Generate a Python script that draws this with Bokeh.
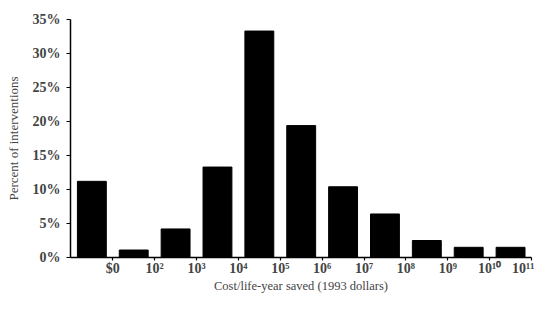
from bokeh.plotting import figure
from bokeh.models import FixedTicker, Range1d
from bokeh.embed import file_html
from bokeh.resources import INLINE

# Data
bins = ["<$0", "$0-10²", "10²-10³", "10³-10⁴", "10⁴-10⁵", "10⁵-10⁶",
        "10⁶-10⁷", "10⁷-10⁸", "10⁸-10⁹", "10⁹-10¹⁰", "10¹⁰-10¹¹"]
percents = [11.2, 1.1, 4.2, 13.3, 33.3, 19.4, 10.4, 6.4, 2.5, 1.5, 1.5]
tick_labels = ["$0", "10²", "10³", "10⁴", "10⁵", "10⁶", "10⁷", "10⁸", "10⁹", "10¹⁰", "10¹¹"]
y_ticks = [0, 5, 10, 15, 20, 25, 30, 35]

xs = list(range(len(bins)))
boundaries = [i + 0.5 for i in range(len(tick_labels))]

p = figure(width=534, height=295, output_backend="svg", toolbar_location=None,
           x_range=Range1d(-0.51, 10.5), y_range=Range1d(0, 35),
           min_border_left=70, min_border_right=3, min_border_top=19, min_border_bottom=36)

p.vbar(x=xs, top=percents, width=0.69, bottom=0, fill_color="black", line_color="black")

p.xgrid.visible = False
p.ygrid.visible = False
p.outline_line_color = None
p.background_fill_color = "white"
p.border_fill_color = "white"

serif = "Liberation Serif"

# x axis
xa = p.xaxis[0]
xa.ticker = FixedTicker(ticks=boundaries)
xa.major_label_overrides = {b: lab for b, lab in zip(boundaries, tick_labels)}
xa.minor_tick_line_color = None
xa.major_tick_in = 0
xa.major_tick_out = 3
xa.axis_line_width = 1.5
xa.major_tick_line_width = 1.2
xa.major_label_text_font = serif
xa.major_label_text_font_style = "bold"
xa.major_label_text_font_size = "14px"
xa.major_label_standoff = 0
xa.axis_label = "Cost/life-year saved (1993 dollars)"
xa.axis_label_text_font = serif
xa.axis_label_text_font_style = "normal"
xa.axis_label_text_font_size = "12.5px"
xa.axis_label_standoff = 0

# y axis
ya = p.yaxis[0]
ya.ticker = FixedTicker(ticks=y_ticks)
ya.major_label_overrides = {t: f"{t}%" for t in y_ticks}
ya.minor_tick_line_color = None
ya.major_tick_in = 0
ya.major_tick_out = 4
ya.axis_line_width = 1.5
ya.major_tick_line_width = 1.2
ya.major_label_text_font = serif
ya.major_label_text_font_style = "bold"
ya.major_label_text_font_size = "14px"
ya.major_label_standoff = 6
ya.axis_label = "Percent of interventions"
ya.axis_label_text_font = serif
ya.axis_label_text_font_style = "normal"
ya.axis_label_text_font_size = "13px"
ya.axis_label_standoff = 9

open("out.html", "w").write(file_html(p, INLINE))
